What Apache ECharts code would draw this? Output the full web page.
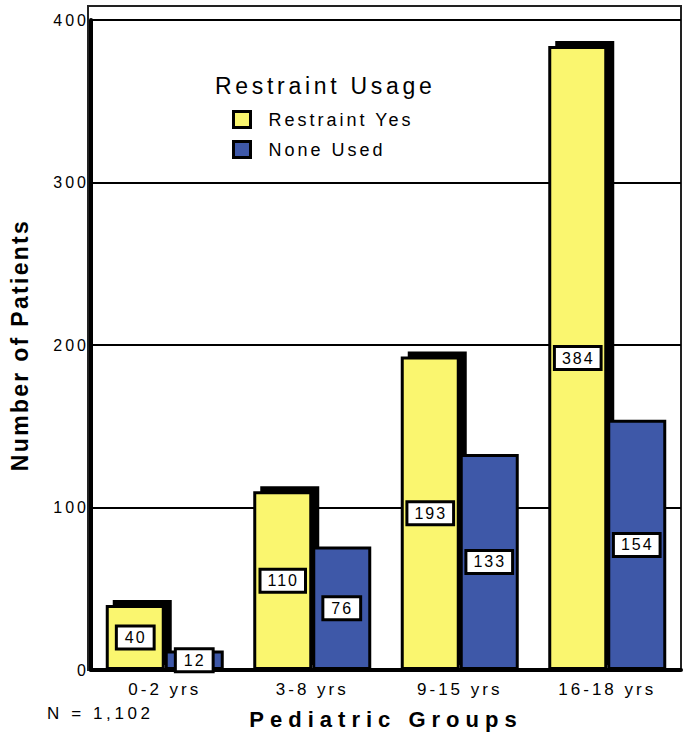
<!DOCTYPE html>
<html>
<head>
<meta charset="utf-8">
<script src="https://cdn.jsdelivr.net/npm/echarts@6/dist/echarts.min.js"></script>
<style>
  html, body { margin: 0; padding: 0; background: #fff; }
  #chart { width: 684px; height: 735px; }
</style>
</head>
<body>
<div id="chart"></div>
<script>
// Patients per pediatric age group, split by restraint usage
const groups = ['0-2 yrs', '3-8 yrs', '9-15 yrs', '16-18 yrs'];
const restraintYes = [40, 110, 193, 384];
const noneUsed = [12, 76, 133, 154];
const seriesNames = ['Restraint Yes', 'None Used'];
const yTicks = ['0', '100', '200', '300', '400'];
const yMin = 0, yMax = 400, yStep = 100;
const legendTitle = 'Restraint Usage';
const xTitle = 'Pediatric Groups';
const yTitle = 'Number of Patients';
const totalNote = 'N = 1,102';

const FONT = "'Liberation Sans', Arial, Helvetica, sans-serif";
const YELLOW = '#FAF66F';
const BLUE = '#3E58A8';
const GRID = { left: 88, right: 3, top: 20, bottom: 65 };
const BAR_W = 59;
const SHADOW_DX = 7, SHADOW_DY = -5;

const valueLabel = {
  show: true,
  position: 'inside',
  color: '#000',
  fontFamily: FONT,
  fontSize: 16,
  lineHeight: 17,
  backgroundColor: '#fff',
  borderColor: '#000',
  borderWidth: 3,
  padding: [2, 8, 1, 9]
};

// Extra tracking per text group (the SVG renderer keeps text as <text>)
const tracking = {};
tracking[legendTitle] = 3.7;
seriesNames.forEach(s => tracking[s] = 3);
yTicks.forEach(s => tracking[s] = 3);
groups.forEach(s => tracking[s] = 3);
tracking[xTitle] = 6;
tracking[yTitle] = 2.3;
tracking[totalNote] = 3.6;
restraintYes.concat(noneUsed).forEach(v => { if (!(String(v) in tracking)) tracking[String(v)] = 2; });

function applyTracking() {
  document.querySelectorAll('#chart svg text').forEach(t => {
    const s = tracking[t.textContent.trim()];
    if (s != null) t.style.letterSpacing = s + 'px';
  });
}

const chart = echarts.init(document.getElementById('chart'), null, { renderer: 'svg' });

// Offset black block drawn behind each yellow bar
function shadowItem(params, api) {
  const idx = api.value(0);
  const top = api.coord([idx, api.value(1)]);
  const base = api.coord([idx, 0]);
  return {
    type: 'rect',
    shape: {
      x: top[0] - BAR_W + SHADOW_DX,
      y: top[1] + SHADOW_DY,
      width: BAR_W,
      height: base[1] - top[1]
    },
    style: { fill: '#000' }
  };
}

chart.setOption({
  animation: false,
  backgroundColor: '#fff',
  textStyle: { fontFamily: FONT, color: '#000' },
  title: {
    text: legendTitle,
    left: 215,
    top: 74,
    padding: 0,
    textStyle: { fontFamily: FONT, fontSize: 23, fontWeight: 'normal', color: '#000' }
  },
  legend: {
    data: seriesNames,
    orient: 'vertical',
    left: 232,
    top: 110,
    padding: 0,
    itemWidth: 17,
    itemHeight: 16,
    itemGap: 11,
    icon: 'rect',
    itemStyle: { borderColor: '#000', borderWidth: 3 },
    textStyle: { fontFamily: FONT, fontSize: 18, color: '#000', padding: [0, 0, 0, 13] }
  },
  grid: { left: GRID.left, right: GRID.right, top: GRID.top, bottom: GRID.bottom, containLabel: false },
  xAxis: {
    type: 'category',
    data: groups,
    name: xTitle,
    nameLocation: 'middle',
    nameGap: 38,
    nameTextStyle: { fontFamily: FONT, fontSize: 22, fontWeight: 'bold', color: '#000' },
    axisLine: { show: true, lineStyle: { color: '#000', width: 4 } },
    axisTick: { show: false },
    axisLabel: { fontFamily: FONT, fontSize: 17, color: '#000', margin: 11 },
    splitLine: { show: false }
  },
  yAxis: {
    type: 'value',
    min: yMin,
    max: yMax,
    interval: yStep,
    name: yTitle,
    nameLocation: 'middle',
    nameGap: 60,
    nameTextStyle: { fontFamily: FONT, fontSize: 23, fontWeight: 'bold', color: '#000' },
    axisLine: { show: true, lineStyle: { color: '#000', width: 4 } },
    axisTick: { show: false },
    axisLabel: { fontFamily: FONT, fontSize: 16, color: '#000', margin: 2 },
    splitLine: { show: true, lineStyle: { color: '#000', width: 2 } }
  },
  graphic: [
    {
      type: 'rect',
      z: -1,
      shape: {
        x: GRID.left,
        y: GRID.top - 14,
        width: 684 - GRID.left - GRID.right,
        height: 735 - GRID.bottom - (GRID.top - 14)
      },
      style: { fill: 'none', stroke: '#222', lineWidth: 2 }
    },
    {
      type: 'text',
      left: 47,
      top: 705,
      style: { text: totalNote, font: '17px ' + FONT, fill: '#000' }
    }
  ],
  series: [
    {
      type: 'custom',
      z: 1,
      silent: true,
      data: restraintYes.map((v, i) => [i, v]),
      encode: { x: 0, y: 1 },
      renderItem: shadowItem
    },
    {
      name: seriesNames[0],
      type: 'bar',
      z: 2,
      data: restraintYes,
      barWidth: BAR_W,
      barGap: '0%',
      itemStyle: { color: YELLOW, borderColor: '#000', borderWidth: 3 },
      label: valueLabel
    },
    {
      name: seriesNames[1],
      type: 'bar',
      z: 3,
      data: noneUsed,
      barWidth: BAR_W,
      barGap: '0%',
      itemStyle: { color: BLUE, borderColor: '#000', borderWidth: 3 },
      label: valueLabel
    }
  ]
});

applyTracking();
chart.on('finished', applyTracking);
</script>
</body>
</html>
